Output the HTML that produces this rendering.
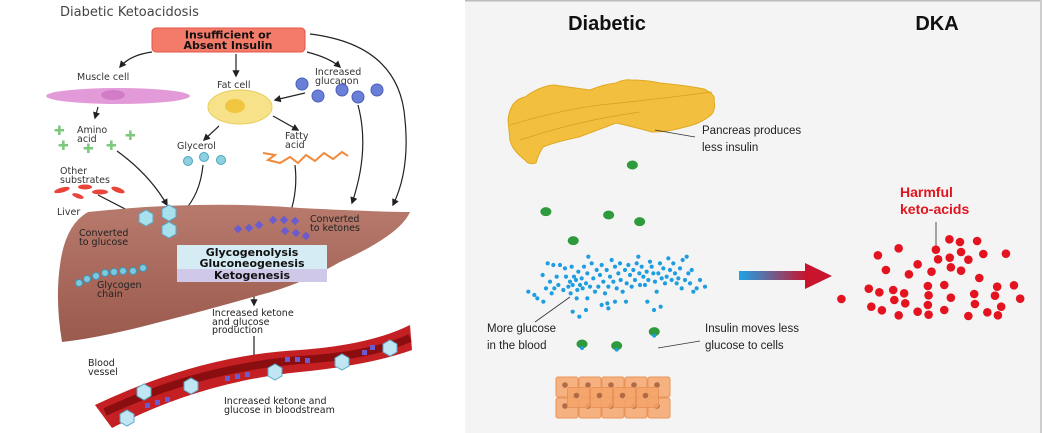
<!DOCTYPE html>
<html><head><meta charset="utf-8"><style>
html,body{margin:0;padding:0;background:#fff;width:1042px;height:433px;overflow:hidden}
svg{display:block;font-family:"Liberation Sans",sans-serif}
.lp text{font-family:"DejaVu Sans","Liberation Sans",sans-serif}
</style></head><body>
<svg id="s" width="1042" height="433" viewBox="0 0 1042 433">
<defs>
<marker id="ah" viewBox="0 0 10 10" refX="8" refY="5" markerWidth="6" markerHeight="6" orient="auto"><path d="M0,0L10,5L0,10z" fill="#222"/></marker>
<linearGradient id="ag" x1="0" x2="1"><stop offset="0" stop-color="#1da3e8"/><stop offset="1" stop-color="#c8142c"/></linearGradient>
<linearGradient id="liv" x1="0" y1="0" x2="0" y2="1"><stop offset="0" stop-color="#b77a6c"/><stop offset="1" stop-color="#9a5a4d"/></linearGradient>
</defs>
<!-- LEFT PANEL -->
<g class="lp">
<text x="60" y="16" font-size="13" fill="#444">Diabetic Ketoacidosis</text>
<rect x="152" y="28" width="153" height="24" rx="4" fill="#f47a6a" stroke="#e25545"/>
<text x="228" y="38.5" font-size="11" font-weight="bold" text-anchor="middle" fill="#111">Insufficient or</text>
<text x="228" y="49" font-size="11" font-weight="bold" text-anchor="middle" fill="#111">Absent Insulin</text>
<g fill="none" stroke="#222" stroke-width="1.2" marker-end="url(#ah)">
<path d="M152,52 Q130,55 120,67"/><path d="M236,54 L236,76"/><path d="M307,52 Q330,58 340,67"/>
<path d="M310,34 Q400,45 405,120 Q410,170 393,205"/><path d="M358,105 Q370,150 352,203"/>
<path d="M305,93 L275,100"/><path d="M98,107 L95,118"/><path d="M219,126 L204,140"/><path d="M273,116 L298,130"/>
<path d="M117,151 Q150,175 167,205"/><path d="M203,165 Q200,195 183,212"/><path d="M295,165 Q298,190 290,214"/>
<path d="M98,195 L135,214"/><path d="M150,262 L168,242"/><path d="M254,283 L254,305"/><path d="M254,336 L254,362"/>
</g>
<text x="77" y="80" font-size="9.5" fill="#333">Muscle cell</text>
<ellipse cx="118" cy="96" rx="72" ry="8" fill="#e39ad9"/>
<ellipse cx="113" cy="95" rx="12" ry="5" fill="#d27cc8"/>
<text x="217" y="88" font-size="9.5" fill="#333">Fat cell</text>
<ellipse cx="240" cy="107" rx="32" ry="17" fill="#f7e28a" stroke="#e8cd5a"/>
<ellipse cx="235" cy="106" rx="10" ry="7" fill="#f0c640"/>
<text x="315" y="75" font-size="9.5" fill="#333">Increased</text>
<text x="315" y="84" font-size="9.5" fill="#333">glucagon</text>
<g fill="#6a7fd8" stroke="#4b5fb8">
<circle cx="302" cy="84" r="6"/><circle cx="318" cy="96" r="6"/><circle cx="342" cy="90" r="6"/><circle cx="358" cy="97" r="6"/><circle cx="377" cy="90" r="6"/></g>
<text x="77" y="133" font-size="9.5" fill="#333">Amino</text><text x="77" y="142" font-size="9.5" fill="#333">acid</text>
<g fill="#7cc87c" font-size="13" font-weight="bold">
<text x="54" y="135">✚</text><text x="58" y="150">✚</text><text x="83" y="153">✚</text><text x="106" y="150">✚</text><text x="125" y="140">✚</text></g>
<text x="177" y="149" font-size="9.5" fill="#333">Glycerol</text>
<g fill="#8dd0e0" stroke="#4aa5c0"><circle cx="188" cy="161" r="4.5"/><circle cx="204" cy="157" r="4.5"/><circle cx="221" cy="160" r="4.5"/></g>
<text x="285" y="139" font-size="9.5" fill="#333">Fatty</text><text x="285" y="148" font-size="9.5" fill="#333">acid</text>
<polyline points="263,153 275,155 268,160 280,163 290,157 298,163 306,155 315,161 324,153 333,159 342,152 348,156" fill="none" stroke="#f28a3c" stroke-width="2"/>
<text x="60" y="174" font-size="9.5" fill="#333">Other</text><text x="60" y="183" font-size="9.5" fill="#333">substrates</text>
<g fill="#e8443a"><ellipse cx="62" cy="190" rx="8" ry="2.5" transform="rotate(-15 62 190)"/><ellipse cx="85" cy="187" rx="7" ry="2.5"/><ellipse cx="100" cy="192" rx="8" ry="2.5"/><ellipse cx="118" cy="190" rx="7" ry="2.5" transform="rotate(20 118 190)"/><ellipse cx="78" cy="196" rx="6" ry="2.2" transform="rotate(20 78 196)"/></g>
<text x="57" y="215" font-size="9.5" fill="#333">Liver</text>
<path d="M88,212 Q200,200 300,208 Q380,212 410,212 Q400,235 340,262 Q300,285 260,295 Q200,312 160,322 Q100,338 62,342 Q55,300 60,265 Q65,225 88,212Z" fill="url(#liv)"/>
<g fill="#a8e0ee" stroke="#5aa9c4">
<polygon points="139,214 146,210 153,214 153,222 146,226 139,222"/><polygon points="162,209 169,205 176,209 176,217 169,221 162,217"/><polygon points="162,226 169,222 176,226 176,234 169,238 162,234"/></g>
<text x="79" y="236" font-size="9.5" fill="#222">Converted</text><text x="79" y="245" font-size="9.5" fill="#222">to glucose</text>
<g fill="#6a5cd0">
<rect x="235" y="226" width="6" height="6" transform="rotate(45 238 229)"/><rect x="246" y="225" width="6" height="6" transform="rotate(45 249 228)"/><rect x="256" y="222" width="6" height="6" transform="rotate(45 259 225)"/>
<rect x="270" y="217" width="6" height="6" transform="rotate(45 273 220)"/><rect x="281" y="217" width="6" height="6" transform="rotate(45 284 220)"/><rect x="292" y="218" width="6" height="6" transform="rotate(45 295 221)"/>
<rect x="282" y="228" width="6" height="6" transform="rotate(45 285 231)"/><rect x="293" y="230" width="6" height="6" transform="rotate(45 296 233)"/><rect x="303" y="233" width="6" height="6" transform="rotate(45 306 236)"/></g>
<text x="310" y="222" font-size="9.5" fill="#222">Converted</text><text x="310" y="231" font-size="9.5" fill="#222">to ketones</text>
<g fill="#7cc8de" stroke="#3e96b5">
<circle cx="79" cy="283" r="3.5"/><circle cx="87" cy="279" r="3.5"/><circle cx="96" cy="276" r="3.5"/><circle cx="105" cy="273" r="3.5"/><circle cx="114" cy="272" r="3.5"/><circle cx="123" cy="271" r="3.5"/><circle cx="133" cy="271" r="3.5"/><circle cx="143" cy="268" r="3.5"/></g>
<text x="97" y="288" font-size="9.5" fill="#222">Glycogen</text><text x="97" y="297" font-size="9.5" fill="#222">chain</text>
<rect x="177" y="245" width="150" height="24" fill="#d6ecf4"/>
<rect x="177" y="269" width="150" height="13" fill="#d0c8e8"/>
<text x="252" y="256" font-size="11" font-weight="bold" text-anchor="middle" fill="#111">Glycogenolysis</text>
<text x="252" y="267" font-size="11" font-weight="bold" text-anchor="middle" fill="#111">Gluconeogenesis</text>
<text x="252" y="279" font-size="11" font-weight="bold" text-anchor="middle" fill="#111">Ketogenesis</text>
<text x="212" y="316" font-size="9.5" fill="#222">Increased ketone</text><text x="212" y="325" font-size="9.5" fill="#222">and glucose</text><text x="212" y="333" font-size="9.5" fill="#222">production</text>
<path d="M95,405 Q200,355 300,350 Q370,345 410,325 L412,350 Q370,365 300,372 Q200,382 112,428 Z" fill="#c41f22"/>
<path d="M105,412 Q200,368 300,360 Q370,356 410,338" fill="none" stroke="#8a0d10" stroke-width="8"/>
<g fill="#bfe6f2" stroke="#5aa9c4">
<polygon points="383,344 390,340 397,344 397,352 390,356 383,352"/><polygon points="335,358 342,354 349,358 349,366 342,370 335,366"/><polygon points="268,368 275,364 282,368 282,376 275,380 268,376"/><polygon points="184,382 191,378 198,382 198,390 191,394 184,390"/><polygon points="120,414 127,410 134,414 134,422 127,426 120,422"/><polygon points="137,388 144,384 151,388 151,396 144,400 137,396"/></g>
<g fill="#6a5cd0"><rect x="285" y="357" width="5" height="5"/><rect x="295" y="357" width="5" height="5"/><rect x="305" y="358" width="5" height="5"/><rect x="225" y="376" width="5" height="5"/><rect x="235" y="374" width="5" height="5"/><rect x="245" y="372" width="5" height="5"/><rect x="145" y="403" width="5" height="5"/><rect x="155" y="400" width="5" height="5"/><rect x="165" y="397" width="5" height="5"/><rect x="362" y="350" width="5" height="5"/><rect x="370" y="345" width="5" height="5"/></g>
<text x="88" y="366" font-size="9.5" fill="#222">Blood</text><text x="88" y="375" font-size="9.5" fill="#222">vessel</text>
<text x="224" y="404" font-size="9.5" fill="#222">Increased ketone and</text><text x="224" y="413" font-size="9.5" fill="#222">glucose in bloodstream</text>
</g>
<!-- RIGHT PANEL -->
<g>
<rect x="465" y="0" width="577" height="433" fill="#f4f4f4"/>
<rect x="465" y="0" width="577" height="1.5" fill="#bbb"/>
<rect x="1040" y="0" width="2" height="433" fill="#ccc"/>
<text x="607" y="30" font-size="20" font-weight="bold" text-anchor="middle" fill="#111">Diabetic</text>
<text x="937" y="30" font-size="20" font-weight="bold" text-anchor="middle" fill="#111">DKA</text>
<path d="M508,120 Q510,100 525,97 Q540,86 554,85 Q575,88 590,90 Q605,84 616,83 Q625,79 631,80 Q645,80 660,83 Q690,86 704,89 Q716,95 714,100 Q716,110 711,115 Q700,124 685,127 Q668,132 652,132 Q630,126 616,123 Q598,130 579,137 Q555,142 543,147 Q538,155 536,163 Q528,165 525,160 Q512,150 510,140Z" fill="#f2c03e" stroke="#e0a820"/>
<g fill="none" stroke="#d9a21e" stroke-width="0.8"><path d="M510,125 Q560,110 600,105 Q650,100 712,92"/><path d="M520,140 Q580,120 640,112"/></g>
<line x1="655" y1="130" x2="695" y2="137" stroke="#333" stroke-width="0.8"/>
<text x="702" y="134" font-size="11.5" fill="#222">Pancreas produces</text>
<text x="702" y="151" font-size="11.5" fill="#222">less insulin</text>
<g id="blue"></g>
<g id="green"></g>
<line x1="570" y1="297" x2="535" y2="322" stroke="#333" stroke-width="0.8"/>
<text x="487" y="332" font-size="11.5" fill="#222">More glucose</text>
<text x="487" y="349" font-size="11.5" fill="#222">in the blood</text>
<line x1="658" y1="348" x2="700" y2="341" stroke="#333" stroke-width="0.8"/>
<text x="705" y="332" font-size="11.5" fill="#222">Insulin moves less</text>
<text x="705" y="349" font-size="11.5" fill="#222">glucose to cells</text>
<g id="cells"></g>
<rect x="739" y="271" width="68" height="9" fill="url(#ag)"/>
<polygon points="805,263 832,276 805,289" fill="#c8142c"/>
<text x="900" y="197" font-size="14" font-weight="bold" fill="#e0141e">Harmful</text>
<text x="900" y="214" font-size="14" font-weight="bold" fill="#e0141e">keto-acids</text>
<line x1="936" y1="222" x2="936" y2="247" stroke="#555" stroke-width="1"/>
<g id="red"></g>
</g>
</svg>
<script>
// red keto-acid dot positions (zoom-space coords)
const redX=[1018,1093,1100,1118,1122,1129,1140,1160,1163,1175,1175,1190,1193,1203,1227,1227,1255,1257,1255,1257,1265,1277,1283,1300,1300,1314,1315,1318,1318,1343,1346,1346,1366,1366,1382,1384,1390,1396,1407,1418,1439,1445,1447,1456,1469,1491,1508];
const redY=[897,866,920,766,877,931,810,870,900,745,946,880,910,823,793,935,858,886,915,944,815,749,778,855,930,718,773,802,893,726,756,812,779,948,882,912,723,834,762,937,887,860,946,920,761,856,896];
// blue glucose dot positions (zoom crop at 500,240 scaled 3x)
const blueX=[85,103,112,128,130,138,143,150,155,160,163,170,175,180,190,195,198,205,210,212,215,218,222,228,232,235,240,245,248,252,258,262,265,270,275,280,285,290,295,300,305,310,315,320,325,330,335,340,345,350,355,360,362,368,375,380,385,390,395,400,405,410,415,418,420,425,430,435,440,445,450,455,460,465,470,475,480,485,490,495,500,505,510,515,520,525,530,535,540,545,548,555,560,565,570,575,580,590,600,615,218,238,258,305,325,345,378,442,462,482,322,230,262];
const blueY=[155,165,175,105,185,145,70,125,160,75,145,110,135,75,150,85,110,140,125,160,80,135,110,120,150,95,135,115,145,80,130,100,50,140,70,115,155,90,140,105,75,125,160,90,140,110,60,125,80,145,100,70,120,155,90,130,75,105,140,90,120,70,50,100,135,80,110,135,95,120,65,80,100,125,155,100,70,115,85,130,110,55,90,120,70,100,130,115,85,145,60,120,50,100,130,90,155,145,120,140,215,230,210,195,205,185,185,185,210,200,190,175,175];
// insulin molecule positions (zoom-space coords)
const insX=[445,208,380,465,283,505,307,402];
const insY=[495,635,645,665,722,995,1032,1037];
const insBound=[0,0,0,0,0,1,1,1];
// tissue cell grid (col, row)
const cellCol=[0,1,2,3,4,0,1,2,3,4,0.5,1.5,2.5,3.5];
const cellRow=[0,0,0,0,0,1,1,1,1,1,0.5,0.5,0.5,0.5];
const NS='http://www.w3.org/2000/svg';
const sx=zx=>470+zx/2.741, sy=zy=>zy/3;
const red=document.getElementById('red');
redX.forEach((v,i)=>{const c=document.createElementNS(NS,'circle');


c.setAttribute('cx',sx(v));c.setAttribute('cy',sy(redY[i]));c.setAttribute('r',4.3);c.setAttribute('fill','#e3131f');red.appendChild(c);});
const blue=document.getElementById('blue');
blueX.forEach((v,i)=>{const c=document.createElementNS(NS,'circle');


c.setAttribute('cx',500+v/3);c.setAttribute('cy',240+blueY[i]/3);c.setAttribute('r',2.1);c.setAttribute('fill','#1e9ee0');blue.appendChild(c);});
const green=document.getElementById('green');
insX.forEach((v,i)=>{const g=document.createElementNS(NS,'g');


const x=sx(v),y=sy(insY[i]);
const e=document.createElementNS(NS,'ellipse');e.setAttribute('cx',x);e.setAttribute('cy',y);e.setAttribute('rx',5.5);e.setAttribute('ry',4.5);e.setAttribute('fill','#2e9a3c');g.appendChild(e);
if(insBound[i]){const b=document.createElementNS(NS,'circle');b.setAttribute('cx',x);b.setAttribute('cy',y+4);b.setAttribute('r',2);b.setAttribute('fill','#1e9ee0');g.appendChild(b);}
green.appendChild(g);});
const cells=document.getElementById('cells');
cellCol.forEach((c,i)=>{const r=document.createElementNS(NS,'rect');


const x=556+c*23,y=377+cellRow[i]*21;
r.setAttribute('x',x);r.setAttribute('y',y);r.setAttribute('width',22);r.setAttribute('height',20);r.setAttribute('rx',2);r.setAttribute('fill','#f4a46a');r.setAttribute('fill-opacity','0.85');r.setAttribute('stroke','#e9935a');cells.appendChild(r);
const n=document.createElementNS(NS,'circle');n.setAttribute('cx',x+9);n.setAttribute('cy',y+8);n.setAttribute('r',2.8);n.setAttribute('fill','#b06a45');cells.appendChild(n);});
</script>
</body></html>
